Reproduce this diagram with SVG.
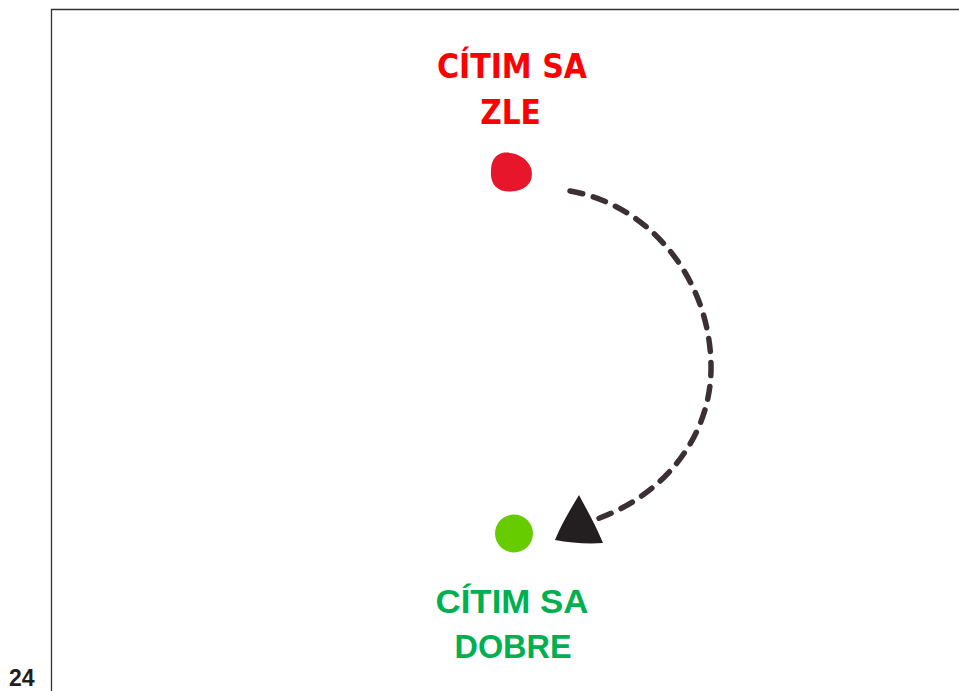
<svg xmlns="http://www.w3.org/2000/svg" width="959" height="691" viewBox="0 0 959 691">
<style>
.red{font-family:'DejaVu Sans Condensed','DejaVu Sans',sans-serif;font-stretch:condensed;font-weight:bold;font-size:33px;fill:#ff0000;text-anchor:middle}
.green{font-family:'Liberation Sans',Arial,sans-serif;font-weight:bold;font-size:33px;fill:#00b050;text-anchor:middle}
.page{font-family:'Liberation Sans',Arial,sans-serif;font-weight:bold;font-size:23px;fill:#231f20}
</style>
<rect width="959" height="691" fill="#ffffff"/>
<g id="frame">
<path d="M51.5 691 V9.5 H959" fill="none" stroke="#333333" stroke-width="1.3"/>
<text class="page" x="9" y="686">24</text>
</g>
<g id="node-zle">
<text class="red" x="512" y="78" textLength="150" lengthAdjust="spacingAndGlyphs">CÍTIM SA</text>
<text class="red" x="510.5" y="124">ZLE</text>
<path d="M502 153 C514 151 527 157 531 168 C535 182 526 191 511 191.5 C497 192 490 184 491 171 C491 161 495 155 502 153 Z" fill="#e8162b"/>
</g>
<g id="node-dobre">
<circle cx="514" cy="533.5" r="19" fill="#66cc00"/>
<text class="green" x="512" y="613" textLength="153" lengthAdjust="spacingAndGlyphs">CÍTIM SA</text>
<text class="green" x="513" y="658" textLength="117" lengthAdjust="spacingAndGlyphs">DOBRE</text>
</g>
<g id="connectors">
<path d="M570 191 C650 205 712 280 711 370 C710 440 660 500 588 522" fill="none" stroke="#3b3035" stroke-width="5.5" stroke-linecap="round" stroke-dasharray="13 11"/>
<path d="M579 495 C587 510 596 526 603 543 C588 544 570 543 555 540 C561 525 570 510 579 495 Z" fill="#231f20"/>
</g>
</svg>
